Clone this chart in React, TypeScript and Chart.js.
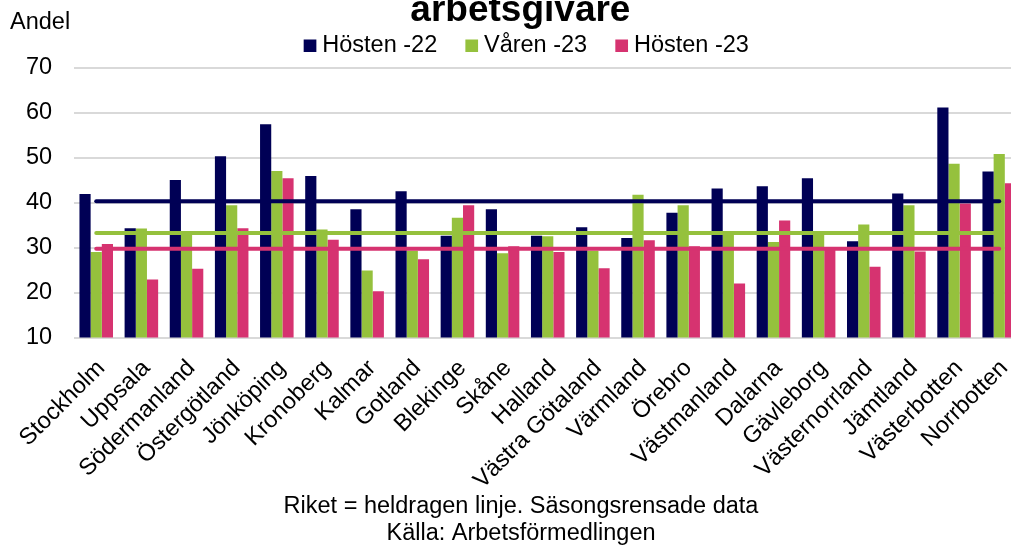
import React, { useEffect, useRef } from 'react';
import { Chart, registerables } from 'chart.js';

Chart.register(...registerables);

// ---------- data ----------
const categories = [
  'Stockholm', 'Uppsala', 'Södermanland', 'Östergötland', 'Jönköping', 'Kronoberg',
  'Kalmar', 'Gotland', 'Blekinge', 'Skåne', 'Halland', 'Västra Götaland', 'Värmland',
  'Örebro', 'Västmanland', 'Dalarna', 'Gävleborg', 'Västernorrland', 'Jämtland',
  'Västerbotten', 'Norrbotten',
];
const seriesLabels = ['Hösten -22', 'Våren -23', 'Hösten -23'];
const hosten22 = [41.9, 34.3, 45.0, 50.3, 57.4, 45.9, 38.5, 42.5, 32.6, 38.5, 32.6, 34.5, 32.1, 37.7, 43.1, 43.6, 45.4, 31.4, 42.0, 61.1, 46.9];
const varen23 = [29.0, 34.2, 33.3, 39.4, 47.0, 34.0, 24.9, 29.3, 36.6, 28.7, 32.5, 29.3, 41.7, 39.4, 33.4, 31.2, 33.5, 35.1, 39.4, 48.6, 50.8];
const hosten23 = [30.8, 22.9, 25.3, 34.3, 45.4, 31.7, 20.3, 27.4, 39.4, 30.3, 29.0, 25.4, 31.6, 30.3, 22.0, 36.0, 29.6, 25.7, 29.1, 39.8, 44.3];
// Riket (national level) – drawn as solid lines
const riketHosten22 = 40.3;
const riketVaren23 = 33.2;
const riketHosten23 = 29.7;
const yTicks = [10, 20, 30, 40, 50, 60, 70];

const titleText = 'arbetsgivare';
const yAxisLabel = 'Andel';
const footerLines = ['Riket = heldragen linje. Säsongsrensade data', 'Källa: Arbetsförmedlingen'];

// ---------- style ----------
const NAVY = '#000055';
const GREEN = '#95C13D';
const PINK = '#D63370';
const FONT = "'Liberation Sans', Arial, sans-serif";
const FS = 23.5;

const textPlugin = {
  id: 'extraText',
  afterDraw(chart: any) {
    const ctx = chart.ctx as CanvasRenderingContext2D;
    ctx.save();
    ctx.fillStyle = '#000';
    ctx.textBaseline = 'alphabetic';
    ctx.font = `bold 37px ${FONT}`;
    ctx.textAlign = 'center';
    ctx.fillText(titleText, 520.4, 20.7);
    ctx.font = `${FS}px ${FONT}`;
    ctx.textAlign = 'left';
    ctx.fillText(yAxisLabel, 10, 29.3);
    ctx.textAlign = 'center';
    ctx.fillText(footerLines[0], 521, 513);
    ctx.fillText(footerLines[1], 521, 540);
    ctx.restore();
  },
};

const riketLine = (value: number, color: string, label: string) => ({
  type: 'line' as const,
  label,
  data: [
    { x: categories[0], y: value },
    { x: categories[categories.length - 1], y: value },
  ],
  borderColor: color,
  backgroundColor: color,
  borderWidth: 4,
  borderCapStyle: 'round' as const,
  pointRadius: 0,
  pointHoverRadius: 0,
  fill: false,
  order: 0,
});

export default function App() {
  const canvasRef = useRef<HTMLCanvasElement | null>(null);

  useEffect(() => {
    if (!canvasRef.current) return;
    Chart.defaults.font.family = FONT;
    Chart.defaults.color = '#000';

    const chart = new Chart(canvasRef.current, {
      type: 'bar',
      data: {
        labels: categories,
        datasets: [
          { type: 'bar', label: seriesLabels[0], data: hosten22, backgroundColor: NAVY, borderWidth: 0, order: 1 },
          { type: 'bar', label: seriesLabels[1], data: varen23, backgroundColor: GREEN, borderWidth: 0, order: 1 },
          { type: 'bar', label: seriesLabels[2], data: hosten23, backgroundColor: PINK, borderWidth: 0, order: 1 },
          riketLine(riketHosten22, NAVY, 'Riket ' + seriesLabels[0]),
          riketLine(riketVaren23, GREEN, 'Riket ' + seriesLabels[1]),
          riketLine(riketHosten23, PINK, 'Riket ' + seriesLabels[2]),
        ] as any,
      },
      options: {
        responsive: false,
        animation: false,
        devicePixelRatio: 1,
        layout: { padding: { left: 18, right: 1.6, top: 0, bottom: 0 } },
        datasets: { bar: { categoryPercentage: 0.743, barPercentage: 1 } },
        plugins: {
          title: { display: false },
          tooltip: { enabled: false },
          legend: {
            position: 'top',
            labels: {
              usePointStyle: true,
              pointStyle: 'rect',
              boxWidth: 1,
              boxHeight: 12.7,
              padding: 34,
              color: '#000',
              font: { size: FS, family: FONT },
              filter: (item: any) => item.datasetIndex < 3,
            },
          },
        },
        scales: {
          x: {
            grid: { display: false, drawTicks: false },
            border: { display: false },
            ticks: {
              autoSkip: false,
              maxRotation: 45,
              minRotation: 45,
              padding: 17,
              labelOffset: 5,
              color: '#000',
              font: { size: FS, family: FONT },
            },
            afterFit: (s: any) => { s.height = 208.5; },
          },
          y: {
            min: 10,
            max: 70,
            ticks: { stepSize: 10, padding: 21.5, color: '#000', font: { size: FS, family: FONT } },
            afterBuildTicks: (s: any) => { s.ticks = yTicks.map((v) => ({ value: v })); },
            grid: { color: '#d9d9d9', lineWidth: 2, drawTicks: false },
            border: { display: false },
            afterFit: (s: any) => { s.width = 51.2; },
          },
          // empty right-hand spacer (keeps the plot ending where the reference's does)
          ySpacer: {
            type: 'linear',
            position: 'right',
            display: true,
            grid: { display: false, drawOnChartArea: false },
            border: { display: false },
            ticks: { display: false },
            afterFit: (s: any) => { s.width = 18.6; },
          },
        },
      } as any,
      plugins: [textPlugin],
    });
    return () => chart.destroy();
  }, []);

  return (
    <div style={{ position: 'fixed', left: 0, top: 0, width: 1011, height: 546, overflow: 'hidden', background: '#fff' }}>
      <canvas ref={canvasRef} width={1042} height={546} style={{ display: 'block' }} />
    </div>
  );
}
